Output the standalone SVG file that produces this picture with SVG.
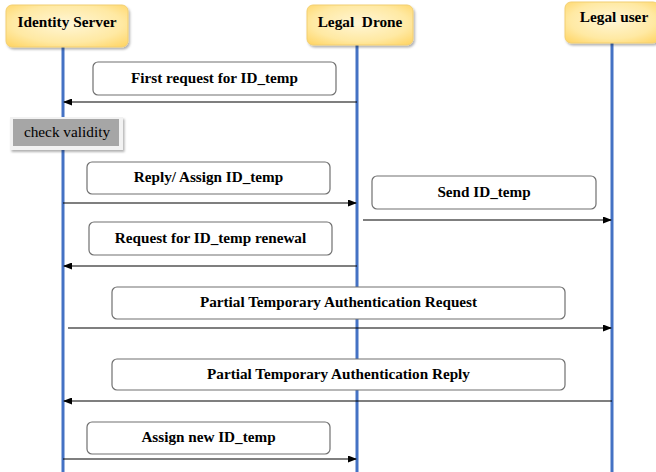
<svg xmlns="http://www.w3.org/2000/svg" width="656" height="472" viewBox="0 0 656 472">
  <defs>
    <radialGradient id="headFill" cx="0.5" cy="0.45" r="0.75">
      <stop offset="0" stop-color="#fff6d6"/>
      <stop offset="0.6" stop-color="#ffe9a3"/>
      <stop offset="1" stop-color="#ffd25c"/>
    </radialGradient>
    <filter id="shadow" x="-10%" y="-10%" width="130%" height="140%">
      <feDropShadow dx="1.5" dy="2" stdDeviation="1.2" flood-color="#000" flood-opacity="0.3"/>
    </filter>
    <marker id="arrow" markerWidth="9" markerHeight="7" refX="8" refY="3.5" orient="auto" markerUnits="userSpaceOnUse">
      <path d="M0,0 L9,3.5 L0,7 Z" fill="#000"/>
    </marker>
  </defs>
  <style>
    .head { fill: url(#headFill); stroke: #f2cf73; stroke-width: 1; filter: url(#shadow); }
    .serif { font-family: "Liberation Serif", "DejaVu Serif", "Times New Roman", serif; }
    .headText { font-weight: bold; font-size: 15.3px; fill: #000; text-anchor: middle; }
    .life { stroke: #4472c4; stroke-width: 3; }
    .label { fill: #fff; stroke: #707070; stroke-width: 1.2; }
    .labelText { font-weight: bold; font-size: 15.2px; fill: #000; text-anchor: middle; }
    .msg { stroke: #000; stroke-width: 1.2; fill: none; marker-end: url(#arrow); }
  </style>
  <rect width="656" height="472" fill="#fff"/>

  <!-- lifelines -->
  <g id="lifelines">
    <line class="life" x1="63" y1="47" x2="63" y2="472"/>
    <line class="life" x1="357" y1="45" x2="357" y2="472"/>
    <line class="life" x1="612" y1="43" x2="612" y2="472"/>
  </g>

  <!-- participants -->
  <g id="identity-server">
    <rect class="head" x="6" y="5" width="122" height="42" rx="6"/>
    <text class="serif headText" x="67" y="27">Identity Server</text>
  </g>
  <g id="legal-drone">
    <rect class="head" x="307" y="5" width="106" height="40" rx="6"/>
    <text class="serif headText" x="360" y="27" xml:space="preserve">Legal  Drone</text>
  </g>
  <g id="legal-user">
    <rect class="head" x="565" y="2" width="94" height="41" rx="6"/>
    <text class="serif headText" x="614" y="22">Legal user</text>
  </g>

  <!-- validity check step -->
  <g id="check-validity">
    <rect x="10" y="117" width="113" height="33" fill="#f2f2f2" filter="url(#shadow)"/>
    <rect x="13" y="119" width="106" height="27" fill="#a6a6a6"/>
    <text class="serif" x="67" y="137" font-size="15.3" text-anchor="middle" fill="#000">check validity</text>
  </g>

  <!-- message labels -->
  <g id="msg-first-request">
    <rect class="label" x="93" y="62" width="243" height="33" rx="5"/>
    <text class="serif labelText" x="214.5" y="83">First request for ID_temp</text>
  </g>
  <g id="msg-reply-assign">
    <rect class="label" x="87" y="162" width="243" height="32" rx="5"/>
    <text class="serif labelText" x="208.5" y="182">Reply/ Assign ID_temp</text>
  </g>
  <g id="msg-send-id">
    <rect class="label" x="372" y="176" width="224" height="33" rx="5"/>
    <text class="serif labelText" x="484" y="197">Send ID_temp</text>
  </g>
  <g id="msg-renewal">
    <rect class="label" x="89" y="222" width="243" height="33" rx="5"/>
    <text class="serif labelText" x="210.5" y="243">Request for ID_temp renewal</text>
  </g>
  <g id="msg-partial-request">
    <rect class="label" x="112" y="287" width="453" height="32" rx="5"/>
    <text class="serif labelText" x="338.5" y="307">Partial Temporary Authentication Request</text>
  </g>
  <g id="msg-partial-reply">
    <rect class="label" x="112" y="359" width="453" height="31" rx="5"/>
    <text class="serif labelText" x="338.5" y="379">Partial Temporary Authentication Reply</text>
  </g>
  <g id="msg-assign-new">
    <rect class="label" x="87" y="422" width="243" height="32" rx="5"/>
    <text class="serif labelText" x="208.5" y="442">Assign new ID_temp</text>
  </g>

  <!-- connectors -->
  <g id="connectors">
    <line class="msg" x1="357" y1="102" x2="64" y2="102"/>
    <line class="msg" x1="63" y1="203" x2="356" y2="203"/>
    <line class="msg" x1="363" y1="220" x2="611" y2="220"/>
    <line class="msg" x1="357" y1="266" x2="64" y2="266"/>
    <line class="msg" x1="68" y1="328" x2="611" y2="328"/>
    <line class="msg" x1="612" y1="401" x2="64" y2="401"/>
    <line class="msg" x1="63" y1="459" x2="356" y2="459"/>
  </g>
</svg>
